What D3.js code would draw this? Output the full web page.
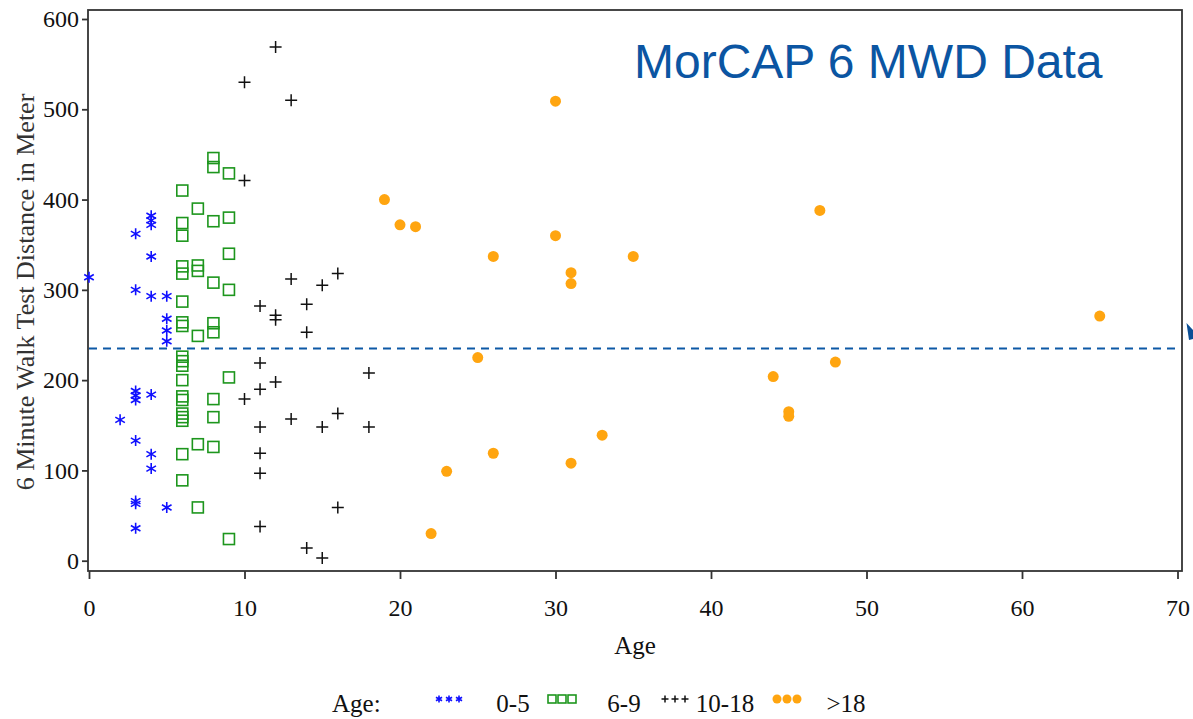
<!DOCTYPE html>
<html>
<head>
<meta charset="utf-8">
<script src="https://cdn.jsdelivr.net/npm/d3@7"></script>
<style>
  body { margin: 0; background: #fff; }
  svg { display: block; }
  .tick text { font-family: "Liberation Serif", "DejaVu Serif", serif; fill: #111; }
</style>
</head>
<body>
<svg id="chart" width="1193" height="719"></svg>
<script>
// ages 0-5 (blue stars)
var age0_5  = [0, 3, 4, 4, 4, 4, 3, 4, 5, 5, 5, 5, 3, 3, 3, 4, 2, 3, 4, 4, 3, 3, 5, 3];
var dist0_5 = [314, 362, 382, 377, 372, 337, 300, 293, 293, 268, 255, 243, 188, 183, 178, 184, 156, 133, 118, 102, 66, 63, 59, 36];

// ages 6-9 (green squares)
var age6_9  = [6, 6, 6, 6, 6, 6, 6, 6, 6, 6, 6, 6, 6, 6, 6, 6, 6, 6, 6,
	       7, 7, 7, 7, 7, 7,
	       8, 8, 8, 8, 8, 8, 8, 8, 8,
	       9, 9, 9, 9, 9, 9];
var dist6_9 = [410, 374, 360, 326, 318, 287, 264, 260, 226, 221, 216, 200, 182, 178, 163, 159, 155, 118, 89,
	       390, 327, 321, 249, 129, 59,
	       446, 436, 376, 308, 263, 253, 179, 159, 126,
	       429, 380, 340, 300, 203, 24];

// ages 10-18 (black plus)
var age10_18  = [12, 10, 13, 10, 13, 15, 16, 11, 12, 12, 14, 14, 11, 18, 11, 12, 10, 13, 16, 15, 11, 18, 11, 11, 16, 11, 14, 15];
var dist10_18 = [569, 530, 510, 421, 312, 305, 318, 282, 272, 267, 284, 253, 219, 208, 190, 198, 179, 157, 163, 148, 148, 148, 119, 97, 59, 38, 14, 3];

// ages >18 (orange dots)
var ageAdult  = [30, 19, 20, 21, 30, 26, 35, 31, 31, 25, 33, 26, 31, 23, 22, 47, 65, 48, 44, 45, 45];
var distAdult = [509, 400, 372, 370, 360, 337, 337, 319, 307, 225, 139, 119, 108, 99, 30, 388, 271, 220, 204, 165, 160];

var meanDist = 235;

var xTicks = [0, 10, 20, 30, 40, 50, 60, 70];
var yTicks = [0, 100, 200, 300, 400, 500, 600];

var groupLabels = ["0-5", "6-9", "10-18", ">18"];
var groupTypes = ["star", "square", "plus", "dot"];
var groupColors = ["#1010ff", "#1d961d", "#111111", "#ffa510"];

var serif = "'Liberation Serif', 'DejaVu Serif', serif";

var svg = d3.select("#chart");

var x = d3.scaleLinear().domain([0, 70]).range([89, 1177.5]);
var y = d3.scaleLinear().domain([0, 600]).range([560.7, 19]);

var zip = function(xs, ys) {
    return xs.map(function(v, i) { return [v, ys[i]]; });
};

// one marker shape per age group
var marker = function(sel, type, color, s) {
    var h = s / 2;
    if(type == "star") {
	var dx = h * 0.87, dy = h * 0.5;
	sel.append("path")
	    .attr("d", "M0," + (-h) + "L0," + h
		  + "M" + (-dx) + "," + (-dy) + "L" + dx + "," + dy
		  + "M" + (-dx) + "," + dy + "L" + dx + "," + (-dy))
	    .attr("stroke", color).attr("stroke-width", 1.6).attr("fill", "none");
    }
    else if(type == "square") {
	sel.append("rect")
	    .attr("x", -h).attr("y", -h).attr("width", s).attr("height", s)
	    .attr("stroke", color).attr("stroke-width", 1.6).attr("fill", "none");
    }
    else if(type == "plus") {
	sel.append("path")
	    .attr("d", "M" + (-h) + ",0L" + h + ",0M0," + (-h) + "L0," + h)
	    .attr("stroke", color).attr("stroke-width", 1.5).attr("fill", "none");
    }
    else {
	sel.append("circle").attr("r", h).attr("fill", color);
    }
};

// frame
svg.append("rect")
    .attr("x", 88).attr("y", 10).attr("width", 1094).attr("height", 561)
    .attr("fill", "none").attr("stroke", "#333").attr("stroke-width", 1.8);

// axes
var xAxis = svg.append("g")
    .attr("transform", "translate(0,571)")
    .call(d3.axisBottom(x).tickValues(xTicks).tickSize(8).tickPadding(20).tickFormat(d3.format("d")));
xAxis.select(".domain").remove();
xAxis.selectAll(".tick line").attr("stroke", "#333").attr("stroke-width", 1.8);
xAxis.selectAll(".tick text").attr("font-size", 24);

var yAxis = svg.append("g")
    .attr("transform", "translate(88,0)")
    .call(d3.axisLeft(y).tickValues(yTicks).tickSize(6).tickPadding(3).tickFormat(d3.format("d")));
yAxis.select(".domain").remove();
yAxis.selectAll(".tick line").attr("stroke", "#333").attr("stroke-width", 1.8);
yAxis.selectAll(".tick text").attr("font-size", 24);

// axis titles
svg.append("text")
    .attr("x", 635).attr("y", 654)
    .attr("text-anchor", "middle")
    .attr("font-family", serif).attr("font-size", 25).attr("fill", "#111")
    .text("Age");

svg.append("text")
    .attr("transform", "translate(34,292) rotate(-90)")
    .attr("text-anchor", "middle")
    .attr("font-family", serif).attr("font-size", 26).attr("fill", "#333")
    .text("6 Minute Walk Test Distance in Meter");

// mean line
svg.append("line")
    .attr("x1", x(0)).attr("x2", 1175)
    .attr("y1", y(meanDist)).attr("y2", y(meanDist))
    .attr("stroke", "#0d59a6").attr("stroke-width", 2)
    .attr("stroke-dasharray", "8,6");

// points
var groups = [zip(age0_5, dist0_5), zip(age6_9, dist6_9), zip(age10_18, dist10_18), zip(ageAdult, distAdult)];
var sizes = [11, 11, 12, 11];
groups.forEach(function(pts, gi) {
    svg.append("g").attr("class", "group-" + gi)
	.selectAll("g")
	.data(pts)
	.enter().append("g")
	.attr("transform", function(d) { return "translate(" + x(d[0]) + "," + y(d[1]) + ")"; })
	.each(function() { marker(d3.select(this), groupTypes[gi], groupColors[gi], sizes[gi]); });
});

// title
svg.append("text")
    .attr("x", 634).attr("y", 78)
    .attr("font-family", "'Liberation Sans', Arial, sans-serif")
    .attr("font-size", 48).attr("fill", "#0b55a2")
    .text("MorCAP 6 MWD Data");

// cut-off marker at the right edge
svg.append("path")
    .attr("d", "M1186.5,323L1193,330L1193,339L1189,340Z")
    .attr("fill", "#0b4f96");

// legend
var legendY = 712;
var symX = [449, 562, 675, 787];
var labelX = [513, 624, 725, 846];
var legendSizes = [7, 8, 7, 9];

svg.append("text")
    .attr("x", 332).attr("y", legendY)
    .attr("font-family", serif).attr("font-size", 25).attr("fill", "#111")
    .text("Age:");

var legend = svg.append("g").selectAll("g")
    .data(groupLabels)
    .enter().append("g");

legend.each(function(label, i) {
    var g = d3.select(this);
    [-10, 0, 10].forEach(function(off) {
	var m = g.append("g").attr("transform", "translate(" + (symX[i] + off) + "," + (legendY - 13) + ")");
	marker(m, groupTypes[i], groupColors[i], legendSizes[i]);
    });
    g.append("text")
	.attr("x", labelX[i]).attr("y", legendY)
	.attr("text-anchor", "middle")
	.attr("font-family", serif).attr("font-size", 25).attr("fill", "#111")
	.text(label);
});
</script>
</body>
</html>
